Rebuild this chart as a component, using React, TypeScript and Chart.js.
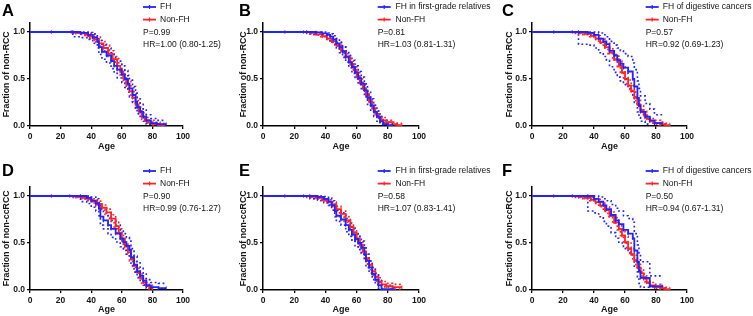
import React, { useEffect, useRef } from "react";
import { Chart, registerables } from "chart.js";
Chart.register(...registerables);

type Pts = [number, number][];

// ---------- Data (age, fraction) step points ----------
const A_FH: Pts = [[0,1],[28,1],[33,0.99],[38,0.97],[41,0.94],[44,0.9],[45,0.84],[47,0.79],[50,0.75],[53,0.69],[55,0.64],[57,0.6],[60,0.55],[62,0.5],[64,0.45],[65,0.4],[67,0.33],[69,0.26],[70,0.2],[72,0.15],[74,0.1],[76,0.06],[79,0.03],[83,0.02],[89,0.02]];
const A_FH_LO: Pts = [[0,1],[28,0.95],[33,0.94],[38,0.92],[41,0.88],[44,0.83],[45,0.76],[47,0.71],[50,0.67],[53,0.61],[55,0.56],[57,0.51],[60,0.46],[62,0.41],[64,0.36],[65,0.31],[67,0.25],[69,0.18],[70,0.13],[72,0.09],[74,0.05],[76,0.02],[79,0.005]];
const A_FH_HI: Pts = [[0,1],[33,1],[38,0.995],[41,0.98],[44,0.95],[45,0.91],[47,0.87],[50,0.83],[53,0.78],[55,0.73],[57,0.69],[60,0.64],[62,0.59],[64,0.54],[65,0.49],[67,0.42],[69,0.35],[70,0.29],[72,0.23],[74,0.17],[76,0.12],[79,0.08],[83,0.06],[89,0.06]];
const A_NFH: Pts = [[0,1],[14,1],[27,1],[30,0.99],[33,0.985],[36,0.97],[39,0.95],[42,0.92],[45,0.88],[48,0.83],[51,0.77],[54,0.71],[57,0.64],[59,0.58],[61,0.51],[63,0.44],[65,0.37],[67,0.3],[69,0.23],[71,0.16],[73,0.1],[75,0.06],[77,0.04],[80,0.02],[84,0.01],[88,0.01]];
const A_NFH_LO: Pts = [[0,1],[28,0.99],[32,0.975],[36,0.955],[39,0.93],[42,0.895],[45,0.85],[48,0.8],[51,0.74],[54,0.68],[57,0.6],[59,0.54],[61,0.47],[63,0.4],[65,0.33],[67,0.26],[69,0.19],[71,0.13],[73,0.07],[75,0.04],[77,0.02],[80,0.01],[84,0]];
const A_NFH_HI: Pts = [[0,1],[30,1],[34,0.995],[37,0.985],[40,0.97],[43,0.945],[46,0.91],[49,0.86],[52,0.8],[55,0.74],[58,0.67],[60,0.61],[62,0.55],[64,0.48],[66,0.41],[68,0.34],[70,0.27],[72,0.2],[74,0.14],[76,0.09],[78,0.06],[81,0.04],[85,0.03],[88,0.03]];

const B_FH: Pts = [[0,1],[28,1],[34,0.995],[38,0.985],[41,0.97],[43,0.95],[45,0.92],[47,0.88],[49,0.84],[51,0.79],[53,0.74],[55,0.68],[57,0.63],[59,0.57],[61,0.51],[63,0.45],[65,0.38],[67,0.3],[69,0.22],[71,0.15],[73,0.1],[75,0.05],[77,0.02],[80,0.01],[83,0.01]];
const B_FH_LO: Pts = [[0,1],[30,0.98],[34,0.97],[38,0.955],[41,0.93],[43,0.905],[45,0.87],[47,0.83],[49,0.78],[51,0.73],[53,0.68],[55,0.62],[57,0.56],[59,0.5],[61,0.44],[63,0.38],[65,0.31],[67,0.23],[69,0.16],[71,0.1],[73,0.05],[75,0.02],[77,0]];
const B_FH_HI: Pts = [[0,1],[38,1],[41,0.99],[43,0.98],[45,0.96],[47,0.93],[49,0.89],[51,0.85],[53,0.8],[55,0.75],[57,0.7],[59,0.64],[61,0.58],[63,0.52],[65,0.45],[67,0.37],[69,0.29],[71,0.22],[73,0.16],[75,0.1],[77,0.06],[80,0.04],[83,0.04]];
const B_NFH: Pts = [[0,1],[14,1],[26,1],[30,0.99],[34,0.975],[38,0.955],[41,0.93],[44,0.9],[47,0.86],[50,0.8],[53,0.73],[56,0.66],[58,0.6],[60,0.53],[62,0.46],[64,0.4],[66,0.33],[68,0.26],[70,0.19],[72,0.13],[74,0.09],[76,0.06],[79,0.04],[83,0.02],[86,0.01],[89,0.01]];
const B_NFH_LO: Pts = [[0,1],[28,0.985],[32,0.97],[36,0.95],[40,0.92],[43,0.89],[46,0.85],[49,0.8],[52,0.74],[55,0.67],[57,0.61],[59,0.55],[61,0.48],[63,0.42],[65,0.35],[67,0.29],[69,0.22],[71,0.16],[73,0.1],[75,0.06],[78,0.03],[82,0.01],[86,0]];
const B_NFH_HI: Pts = [[0,1],[30,1],[34,0.99],[38,0.975],[41,0.96],[44,0.93],[47,0.89],[50,0.84],[53,0.77],[56,0.7],[58,0.64],[60,0.57],[62,0.5],[64,0.44],[66,0.37],[68,0.3],[70,0.23],[72,0.17],[74,0.12],[76,0.09],[79,0.06],[83,0.04],[86,0.03],[89,0.03]];

const C_FH: Pts = [[0,1],[30,1],[36,0.99],[40,0.97],[43,0.93],[46,0.9],[48,0.87],[50,0.8],[53,0.75],[55,0.7],[57,0.66],[59,0.62],[62,0.58],[65,0.5],[66,0.42],[68,0.3],[69,0.22],[70,0.15],[73,0.1],[76,0.06],[79,0.03],[84,0.03]];
const C_FH_LO: Pts = [[0,1],[30,0.87],[36,0.86],[40,0.83],[43,0.78],[46,0.74],[48,0.7],[50,0.63],[53,0.57],[55,0.52],[57,0.48],[59,0.44],[62,0.4],[65,0.32],[66,0.25],[68,0.15],[69,0.09],[70,0.05],[73,0.02],[76,0]];
const C_FH_HI: Pts = [[0,1],[40,1],[43,0.99],[46,0.97],[48,0.95],[50,0.9],[53,0.86],[55,0.83],[57,0.8],[59,0.77],[62,0.74],[65,0.67],[66,0.6],[68,0.48],[69,0.4],[70,0.32],[73,0.24],[76,0.18],[79,0.12],[84,0.12]];
const C_NFH: Pts = [[0,1],[14,1],[26,1],[30,0.99],[34,0.98],[38,0.96],[41,0.93],[44,0.89],[47,0.84],[50,0.78],[53,0.71],[56,0.64],[58,0.57],[60,0.5],[62,0.43],[64,0.37],[66,0.3],[68,0.23],[70,0.17],[72,0.12],[74,0.08],[76,0.05],[79,0.03],[83,0.02],[86,0.01],[89,0.01]];
const C_NFH_LO: Pts = [[0,1],[28,0.985],[32,0.97],[36,0.95],[40,0.92],[43,0.88],[46,0.83],[49,0.77],[52,0.7],[55,0.63],[57,0.57],[59,0.5],[61,0.43],[63,0.37],[65,0.31],[67,0.24],[69,0.18],[71,0.13],[73,0.08],[75,0.05],[78,0.02],[82,0.01],[86,0]];
const C_NFH_HI: Pts = [[0,1],[30,1],[34,0.995],[38,0.985],[41,0.96],[44,0.93],[47,0.88],[50,0.82],[53,0.76],[56,0.69],[58,0.63],[60,0.56],[62,0.49],[64,0.43],[66,0.36],[68,0.29],[70,0.22],[72,0.16],[74,0.11],[76,0.08],[79,0.06],[83,0.04],[86,0.03],[89,0.03]];

const D_FH: Pts = [[0,1],[33,1],[37,0.98],[40,0.95],[43,0.92],[45,0.87],[46,0.78],[48,0.74],[51,0.69],[53,0.65],[56,0.6],[59,0.55],[61,0.51],[63,0.47],[65,0.43],[66,0.35],[68,0.27],[70,0.2],[72,0.15],[74,0.1],[76,0.05],[79,0.03],[84,0.02],[89,0.02]];
const D_FH_LO: Pts = [[0,1],[33,0.94],[37,0.92],[40,0.88],[43,0.84],[45,0.79],[46,0.69],[48,0.65],[51,0.6],[53,0.56],[56,0.51],[59,0.46],[61,0.42],[63,0.38],[65,0.34],[66,0.26],[68,0.19],[70,0.13],[72,0.09],[74,0.05],[76,0.02],[79,0.005]];
const D_FH_HI: Pts = [[0,1],[37,1],[40,0.99],[43,0.97],[45,0.93],[46,0.86],[48,0.82],[51,0.77],[53,0.74],[56,0.69],[59,0.64],[61,0.6],[63,0.56],[65,0.52],[66,0.44],[68,0.36],[70,0.29],[72,0.23],[74,0.17],[76,0.11],[79,0.08],[84,0.07],[89,0.07]];
const D_NFH: Pts = [[0,1],[14,1],[26,1],[30,0.99],[34,0.98],[38,0.965],[41,0.945],[44,0.915],[47,0.875],[50,0.825],[53,0.76],[56,0.68],[58,0.61],[60,0.54],[62,0.47],[64,0.4],[66,0.33],[68,0.26],[70,0.19],[72,0.13],[74,0.08],[76,0.05],[78,0.02],[80,0.01]];
const D_NFH_LO: Pts = [[0,1],[28,0.985],[32,0.97],[36,0.95],[40,0.925],[43,0.89],[46,0.85],[49,0.79],[52,0.73],[55,0.65],[57,0.59],[59,0.52],[61,0.45],[63,0.38],[65,0.31],[67,0.25],[69,0.18],[71,0.12],[73,0.07],[75,0.04],[77,0.01],[80,0]];
const D_NFH_HI: Pts = [[0,1],[30,1],[34,0.995],[38,0.985],[41,0.97],[44,0.945],[47,0.905],[50,0.86],[53,0.8],[56,0.72],[58,0.65],[60,0.58],[62,0.51],[64,0.44],[66,0.37],[68,0.3],[70,0.23],[72,0.17],[74,0.12],[76,0.08],[78,0.05],[80,0.03]];

const E_FH: Pts = [[0,1],[30,1],[35,0.99],[39,0.97],[42,0.94],[44,0.9],[46,0.84],[47,0.79],[50,0.75],[53,0.69],[55,0.64],[57,0.59],[59,0.54],[61,0.5],[63,0.45],[65,0.38],[66,0.31],[68,0.24],[70,0.17],[72,0.11],[74,0.05],[76,0.01],[84,0.01]];
const E_FH_LO: Pts = [[0,1],[30,0.97],[35,0.955],[39,0.93],[42,0.9],[44,0.85],[46,0.78],[47,0.73],[50,0.69],[53,0.62],[55,0.57],[57,0.52],[59,0.47],[61,0.43],[63,0.38],[65,0.31],[66,0.24],[68,0.18],[70,0.11],[72,0.06],[74,0.02],[76,0]];
const E_FH_HI: Pts = [[0,1],[35,1],[39,0.995],[42,0.98],[44,0.95],[46,0.9],[47,0.85],[50,0.82],[53,0.76],[55,0.71],[57,0.66],[59,0.61],[61,0.57],[63,0.52],[65,0.45],[66,0.38],[68,0.31],[70,0.24],[72,0.17],[74,0.1],[76,0.05],[84,0.05]];
const E_NFH: Pts = [[0,1],[14,1],[26,1],[30,0.99],[34,0.98],[38,0.96],[41,0.94],[44,0.91],[47,0.86],[50,0.81],[53,0.74],[56,0.67],[58,0.61],[60,0.55],[62,0.48],[64,0.41],[66,0.34],[68,0.27],[70,0.2],[72,0.14],[74,0.09],[76,0.06],[79,0.04],[83,0.03],[89,0.03]];
const E_NFH_LO: Pts = [[0,1],[28,0.985],[32,0.97],[36,0.95],[40,0.925],[43,0.89],[46,0.84],[49,0.78],[52,0.72],[55,0.65],[57,0.59],[59,0.52],[61,0.46],[63,0.39],[65,0.32],[67,0.26],[69,0.19],[71,0.13],[73,0.08],[75,0.05],[78,0.03],[82,0.01],[89,0.01]];
const E_NFH_HI: Pts = [[0,1],[30,1],[34,0.995],[38,0.98],[41,0.96],[44,0.935],[47,0.89],[50,0.84],[53,0.78],[56,0.71],[58,0.65],[60,0.59],[62,0.52],[64,0.45],[66,0.38],[68,0.31],[70,0.24],[72,0.18],[74,0.13],[76,0.09],[79,0.07],[83,0.06],[89,0.06]];

const F_FH: Pts = [[0,1],[36,1],[40,0.97],[43,0.94],[46,0.9],[48,0.86],[51,0.8],[54,0.74],[56,0.7],[59,0.64],[62,0.6],[65,0.55],[66,0.42],[68,0.3],[69,0.2],[70,0.13],[73,0.13],[76,0.04],[84,0.04]];
const F_FH_LO: Pts = [[0,1],[36,0.84],[40,0.82],[43,0.78],[46,0.73],[48,0.68],[51,0.61],[54,0.55],[56,0.5],[59,0.44],[62,0.4],[65,0.35],[66,0.24],[68,0.14],[69,0.07],[70,0.03],[73,0.03],[76,0]];
const F_FH_HI: Pts = [[0,1],[41,1],[43,0.99],[46,0.97],[48,0.95],[51,0.91],[54,0.87],[56,0.84],[59,0.79],[62,0.76],[65,0.72],[66,0.6],[68,0.48],[69,0.38],[70,0.3],[73,0.3],[76,0.15],[84,0.15]];
const F_NFH: Pts = [[0,1],[14,1],[26,1],[30,0.99],[34,0.98],[38,0.96],[41,0.935],[44,0.9],[47,0.85],[50,0.79],[53,0.72],[56,0.65],[58,0.58],[60,0.51],[62,0.44],[64,0.38],[66,0.31],[68,0.24],[70,0.18],[72,0.12],[74,0.08],[76,0.05],[79,0.03],[83,0.02],[86,0.01],[89,0.01]];
const F_NFH_LO: Pts = [[0,1],[28,0.985],[32,0.97],[36,0.95],[40,0.92],[43,0.885],[46,0.835],[49,0.78],[52,0.71],[55,0.64],[57,0.58],[59,0.51],[61,0.44],[63,0.38],[65,0.32],[67,0.25],[69,0.19],[71,0.13],[73,0.08],[75,0.05],[78,0.02],[82,0.01],[86,0]];
const F_NFH_HI: Pts = [[0,1],[30,1],[34,0.995],[38,0.985],[41,0.965],[44,0.935],[47,0.885],[50,0.83],[53,0.77],[56,0.7],[58,0.64],[60,0.57],[62,0.5],[64,0.44],[66,0.37],[68,0.3],[70,0.23],[72,0.17],[74,0.12],[76,0.08],[79,0.06],[83,0.04],[86,0.03],[89,0.03]];

const X_TICKS = [0, 20, 40, 60, 80, 100];
const Y_TICKS = [0, 0.5, 1.0];
const LETTERS = ["A", "B", "C", "D", "E", "F"];
const Y_TITLES = ["Fraction of non-RCC", "Fraction of non-RCC", "Fraction of non-RCC", "Fraction of non-ccRCC", "Fraction of non-ccRCC", "Fraction of non-ccRCC"];
const FH_LABELS = ["FH", "FH in first-grade relatives", "FH of digestive cancers", "FH", "FH in first-grade relatives", "FH of digestive cancers"];
const NFH_LABEL = "Non-FH";
const P_TEXTS = ["P=0.99", "P=0.81", "P=0.57", "P=0.90", "P=0.58", "P=0.50"];
const HR_TEXTS = ["HR=1.00 (0.80-1.25)", "HR=1.03 (0.81-1.31)", "HR=0.92 (0.69-1.23)", "HR=0.99 (0.76-1.27)", "HR=1.07 (0.83-1.41)", "HR=0.94 (0.67-1.31)"];
const CURVES: Pts[][] = [
  [A_FH, A_NFH, A_FH_LO, A_FH_HI, A_NFH_LO, A_NFH_HI],
  [B_FH, B_NFH, B_FH_LO, B_FH_HI, B_NFH_LO, B_NFH_HI],
  [C_FH, C_NFH, C_FH_LO, C_FH_HI, C_NFH_LO, C_NFH_HI],
  [D_FH, D_NFH, D_FH_LO, D_FH_HI, D_NFH_LO, D_NFH_HI],
  [E_FH, E_NFH, E_FH_LO, E_FH_HI, E_NFH_LO, E_NFH_HI],
  [F_FH, F_NFH, F_FH_LO, F_FH_HI, F_NFH_LO, F_NFH_HI],
];

// ---------- Layout ----------
const BLUE = "rgb(35,35,255)";
const RED = "rgb(255,35,35)";
const TXT = "#141414";
const FONT = '"Liberation Sans", Arial, sans-serif';

const COLS = [
  { cx: 0, cw: 239, left: 30, right: 183, titleX: 7, letterX: 2, legLine: 143, legText: 160 },
  { cx: 237, cw: 263, left: 263, right: 419, titleX: 243.5, letterX: 239, legLine: 377.7, legText: 395.5 },
  { cx: 500, cw: 253, left: 532, right: 687, titleX: 509.5, letterX: 502, legLine: 645.7, legText: 662.7 },
];
const ROWS = [
  { cy: 0, ch: 158, top: 22.6, bottom: 126, ageY: 146.7, letterY: 11.5 },
  { cy: 158, ch: 158, top: 186.6, bottom: 290, ageY: 310, letterY: 171 },
];

function toXY(p: Pts) {
  return p.map(([x, y]) => ({ x, y }));
}

function Panel({ idx }: { idx: number }) {
  const ref = useRef<HTMLCanvasElement>(null);
  const col = COLS[idx % 3];
  const row = ROWS[Math.floor(idx / 3)];
  useEffect(() => {
    if (!ref.current) return;
    const [fh, nfh, fhLo, fhHi, nLo, nHi] = CURVES[idx];
    const main = (data: Pts, color: string, label: string) => ({
      label,
      data: toXY(data),
      borderColor: color,
      backgroundColor: color,
      borderWidth: 1.8,
      stepped: "before" as const,
      fill: false,
      pointStyle: "line" as const,
      rotation: 90,
      pointRadius: (c: any) => (c.dataIndex === 0 ? 0 : 1.7),
      pointBorderWidth: 1.1,
      pointBorderColor: color,
      pointHoverRadius: 0,
    });
    const ci = (data: Pts, color: string, label: string) => ({
      label,
      data: toXY(data),
      borderColor: color,
      borderWidth: 1.6,
      borderDash: [1.8, 2.6],
      stepped: "before" as const,
      fill: false,
      pointRadius: 0,
      pointHoverRadius: 0,
    });
    const textPlugin = {
      id: "panelText" + idx,
      afterDraw(chart: any) {
        const ctx: CanvasRenderingContext2D = chart.ctx;
        const ox = col.cx, oy = row.cy;
        const base = row.top;
        ctx.save();
        ctx.fillStyle = "#000";
        ctx.textAlign = "left";
        ctx.textBaseline = "middle";
        ctx.font = `bold 16.5px ${FONT}`;
        ctx.fillText(LETTERS[idx], col.letterX - ox, row.letterY - oy);
        const rowsY = [base - 15.6, base - 3, base + 9.7, base + 21.6];
        const items: [string, string][] = [[BLUE, FH_LABELS[idx]], [RED, NFH_LABEL]];
        items.forEach(([c, t], i) => {
          const y = rowsY[i] - oy;
          const x1 = col.legLine - ox;
          ctx.strokeStyle = c;
          ctx.lineWidth = 1.8;
          ctx.beginPath();
          ctx.moveTo(x1, y);
          ctx.lineTo(x1 + 13, y);
          ctx.stroke();
          ctx.lineWidth = 1.2;
          ctx.beginPath();
          ctx.moveTo(x1 + 6.5, y - 2);
          ctx.lineTo(x1 + 6.5, y + 2);
          ctx.stroke();
          ctx.fillStyle = TXT;
          ctx.font = `8.5px ${FONT}`;
          ctx.fillText(t, col.legText - ox, y);
        });
        ctx.fillStyle = TXT;
        ctx.font = `8.5px ${FONT}`;
        ctx.fillText(P_TEXTS[idx], col.legLine - ox, rowsY[2] - oy);
        ctx.fillText(HR_TEXTS[idx], col.legLine - ox, rowsY[3] - oy);
        ctx.restore();
      },
    };
    const yW = col.left - col.cx;
    const xH = row.cy + row.ch - row.bottom;
    const chart = new Chart(ref.current, {
      type: "line",
      data: {
        datasets: [
          main(fh, BLUE, FH_LABELS[idx]),
          main(nfh, RED, NFH_LABEL),
          ci(fhLo, BLUE, "FH lower"),
          ci(fhHi, BLUE, "FH upper"),
          ci(nLo, RED, "Non-FH lower"),
          ci(nHi, RED, "Non-FH upper"),
        ] as any,
      },
      options: {
        animation: false,
        responsive: false,
        events: [],
        layout: {
          padding: {
            left: 0,
            right: col.cx + col.cw - col.right,
            top: row.top - row.cy,
            bottom: 0,
          },
        },
        plugins: { legend: { display: false }, tooltip: { enabled: false } },
        scales: {
          x: {
            type: "linear",
            min: 0,
            max: 100,
            afterFit: (s: any) => { s.height = xH; },
            afterBuildTicks: (s: any) => { s.ticks = X_TICKS.map((v) => ({ value: v })); },
            ticks: {
              color: TXT,
              font: { family: FONT, size: 8.5, weight: "bold" },
              padding: 2.5,
              maxRotation: 0,
            },
            grid: { display: true, drawOnChartArea: false, drawTicks: true, tickLength: 3, color: "#000", lineWidth: 1.3 },
            border: { display: true, color: "#000", width: 1.5 },
            title: {
              display: true,
              text: "Age",
              color: TXT,
              font: { family: FONT, size: 9, weight: "bold" },
              padding: { top: 0, bottom: row.cy + row.ch - row.ageY - 5.4 },
            },
          },
          y: {
            type: "linear",
            min: 0,
            max: 1.1,
            afterFit: (s: any) => { s.width = yW; },
            afterBuildTicks: (s: any) => { s.ticks = Y_TICKS.map((v) => ({ value: v })); },
            ticks: {
              color: TXT,
              font: { family: FONT, size: 8.5, weight: "bold" },
              padding: 2,
              callback: (v: any) => Number(v).toFixed(1),
            },
            grid: { display: true, drawOnChartArea: false, drawTicks: true, tickLength: 3, color: "#000", lineWidth: 1.3 },
            border: { display: true, color: "#000", width: 1.5 },
            title: {
              display: true,
              text: Y_TITLES[idx],
              color: TXT,
              font: { family: FONT, size: 8.8, weight: "bold" },
              padding: { top: col.titleX - col.cx - 5.3, bottom: 0 },
            },
          },
        },
      },
      plugins: [textPlugin],
    });
    return () => chart.destroy();
  }, [idx]);
  return (
    <canvas
      ref={ref}
      width={col.cw}
      height={row.ch}
      style={{ position: "absolute", left: col.cx, top: row.cy, width: col.cw, height: row.ch }}
    />
  );
}

export default function App() {
  return (
    <div style={{ position: "fixed", left: 0, top: 0, width: 753, height: 316, background: "#fff" }}>
      {[0, 1, 2, 3, 4, 5].map((i) => (
        <Panel key={i} idx={i} />
      ))}
    </div>
  );
}
